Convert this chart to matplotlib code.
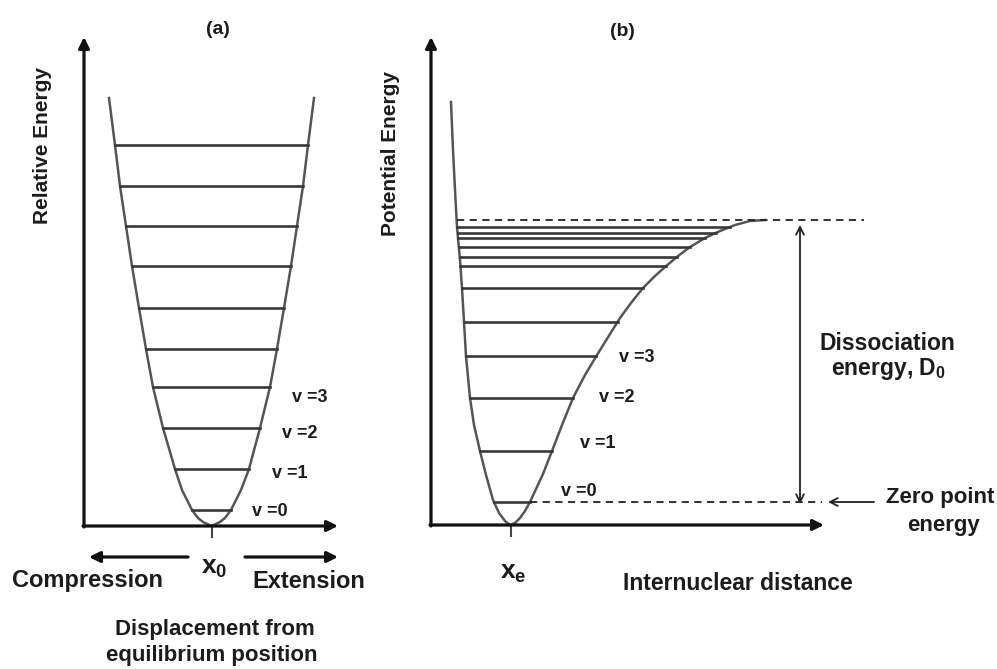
import numpy as np
import matplotlib.pyplot as plt

plt.rcParams['font.family'] = ['Liberation Sans', 'DejaVu Sans']
plt.rcParams['font.weight'] = 'bold'
plt.rcParams['mathtext.fontset'] = 'custom'
plt.rcParams['mathtext.rm'] = 'Liberation Sans:bold'
plt.rcParams['mathtext.it'] = 'Liberation Sans:bold'
plt.rcParams['mathtext.bf'] = 'Liberation Sans:bold'

# ---- (a) harmonic well: energy above the axis vs. position ----
well_a_e = [0, 4, 8, 16, 36, 57, 98, 139, 177, 218, 260, 300, 340, 381, 428]
well_a_left = [211.5, 203, 198, 192, 182, 175, 163, 153, 146, 139, 132, 126, 120, 115, 109]
well_a_right = [211.5, 220, 225, 231, 241, 249, 260, 270, 277, 284, 291, 297, 303, 308, 314]
levels_a = [16, 57, 98, 139, 177, 218, 260, 300, 340, 381]

# ---- (b) anharmonic (Morse-like) well ----
well_b_left_e = [0, 4, 12, 25, 50, 74, 100, 127, 169, 203, 237, 265, 298, 335, 375, 423]
well_b_left_x = [510, 505, 499, 493, 486, 480, 474, 470, 466, 464, 462, 460, 457, 455, 453, 451]
well_b_right_e = [0, 2, 7, 14, 23, 36, 51, 74, 100, 127, 150, 170, 191, 207, 222, 237,
                  249, 258, 269, 278, 287, 294, 300, 304, 305]
well_b_right_x = [510, 515, 520, 525, 530, 536, 543, 552, 562, 573, 585, 597, 610, 620, 631, 643,
                  655, 665, 678, 690, 705, 720, 735, 750, 765]
levels_b = [23, 74, 127, 169, 203, 237, 259, 268, 278, 287, 292, 298]
dissociation_e = 305

v_labels = ['v =0', 'v =1', 'v =2', 'v =3']

base_a = 526
base_b = 525
curve_col = '#555555'
level_col = '#383838'
txt_col = '#1c1c1c'

fig = plt.figure(figsize=(9.97, 6.69), dpi=100)
ax = fig.add_axes([0, 0, 1, 1])
ax.set_xlim(0, 997)
ax.set_ylim(669, 0)
ax.axis('off')

axis_arrow = dict(arrowstyle='-|>', lw=2.3, color='#111111', mutation_scale=16, shrinkA=0, shrinkB=0)

# ---- panel (a) ----
ax.annotate('', xy=(84, 37), xytext=(84, base_a + 1), arrowprops=axis_arrow)
ax.annotate('', xy=(338, base_a), xytext=(83, base_a), arrowprops=axis_arrow)
ax.plot([212, 212], [base_a, base_a + 11], color='#444444', lw=1.5)

ya = [base_a - e for e in well_a_e]
ax.plot(well_a_left[::-1] + well_a_right[1:], ya[::-1] + ya[1:], color=curve_col, lw=1.8)
for e in levels_a:
    x0 = np.interp(e, well_a_e, well_a_left)
    x1 = np.interp(e, well_a_e, well_a_right)
    ax.plot([x0, x1], [base_a - e, base_a - e], color=level_col, lw=1.9)

pos_a = [(270, 512), (290, 473), (300, 433), (310, 397)]
for lab, (x, y) in zip(v_labels, pos_a):
    ax.text(x, y, lab, ha='center', va='center', fontsize=13, color=txt_col)

ax.text(218, 30, '(a)', ha='center', va='center', fontsize=14, color=txt_col)
ax.text(43, 145, 'Relative Energy', rotation=90, ha='center', va='center', fontsize=15, color=txt_col)

ax.annotate('', xy=(89, 557), xytext=(188, 557), arrowprops=axis_arrow)
ax.annotate('', xy=(338, 557), xytext=(245, 557), arrowprops=axis_arrow)
ax.text(214, 568, r'x$_\mathregular{0}$', ha='center', va='center', fontsize=19, color=txt_col)
ax.text(87, 581, 'Compression', ha='center', va='center', fontsize=17, color=txt_col)
ax.text(309, 581, 'Extension', ha='center', va='center', fontsize=17, color=txt_col)
ax.text(215, 630, 'Displacement from', ha='center', va='center', fontsize=16, color=txt_col)
ax.text(212, 656, 'equilibrium position', ha='center', va='center', fontsize=16, color=txt_col)

# ---- panel (b) ----
ax.annotate('', xy=(431, 37), xytext=(431, base_b + 1), arrowprops=axis_arrow)
ax.annotate('', xy=(824, base_b), xytext=(430, base_b), arrowprops=axis_arrow)
ax.plot([511, 511], [base_b, base_b + 11], color='#444444', lw=1.5)

yl = [base_b - e for e in well_b_left_e]
yr = [base_b - e for e in well_b_right_e]
ax.plot(well_b_left_x[::-1] + well_b_right_x[1:], yl[::-1] + yr[1:], color=curve_col, lw=1.8)
for e in levels_b:
    x0 = np.interp(e, well_b_left_e, well_b_left_x)
    x1 = np.interp(e, well_b_right_e, well_b_right_x)
    ax.plot([x0, x1], [base_b - e, base_b - e], color=level_col, lw=1.9)

# dissociation limit and zero point energy
ax.plot([np.interp(dissociation_e, well_b_left_e, well_b_left_x), 864],
        [base_b - dissociation_e] * 2, color='#222222', lw=1.3, ls=(0, (4, 3)))
ax.plot([np.interp(levels_b[0], well_b_right_e, well_b_right_x), 822],
        [base_b - levels_b[0]] * 2, color='#222222', lw=1.3, ls=(0, (4, 3)))

ax.annotate('', xy=(800, base_b - dissociation_e + 5), xytext=(800, base_b - levels_b[0] + 2),
            arrowprops=dict(arrowstyle='<->', lw=1.3, color='#222222', mutation_scale=14,
                            shrinkA=0, shrinkB=0))
ax.annotate('', xy=(828, base_b - levels_b[0]), xytext=(874, base_b - levels_b[0]),
            arrowprops=dict(arrowstyle='->', lw=1.3, color='#222222', mutation_scale=14,
                            shrinkA=0, shrinkB=0))

pos_b = [(579, 492), (598, 443), (617, 397), (637, 357)]
for lab, (x, y) in zip(v_labels, pos_b):
    ax.text(x, y, lab, ha='center', va='center', fontsize=13, color=txt_col)

ax.text(622, 31, '(b)', ha='center', va='center', fontsize=14, color=txt_col)
ax.text(390, 153, 'Potential Energy', rotation=90, ha='center', va='center', fontsize=15, color=txt_col)
ax.text(513, 573, r'x$_\mathregular{e}$', ha='center', va='center', fontsize=19, color=txt_col)
ax.text(738, 583, 'Internuclear distance', ha='center', va='center', fontsize=16.5, color=txt_col)
ax.text(887, 343, 'Dissociation', ha='center', va='center', fontsize=16.5, color=txt_col)
ax.text(888, 369, r'energy, D$_\mathregular{0}$', ha='center', va='center', fontsize=16.5, color=txt_col)
ax.text(940, 498, 'Zero point', ha='center', va='center', fontsize=16, color=txt_col)
ax.text(943, 526, 'energy', ha='center', va='center', fontsize=16, color=txt_col)

fig.savefig('out.png', dpi=100)
